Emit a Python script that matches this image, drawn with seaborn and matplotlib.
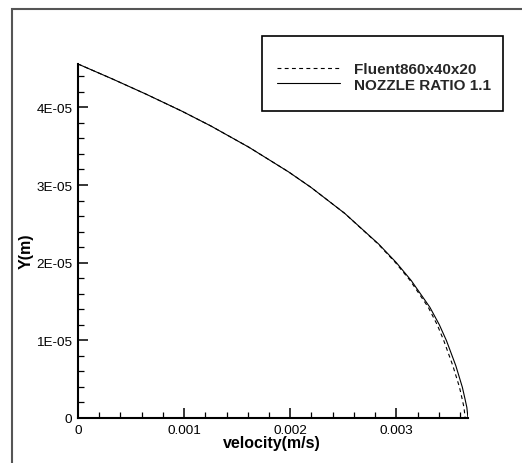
import pandas as pd
import matplotlib
matplotlib.use("Agg")
import matplotlib.pyplot as plt
from matplotlib.patches import Rectangle
from matplotlib.lines import Line2D
from matplotlib.ticker import MultipleLocator
import seaborn as sns

# Velocity profile across the nozzle half-height
y_pos = [4.558e-05, 4.365e-05, 4.17e-05, 3.95e-05, 3.76e-05, 3.485e-05, 3.17e-05,
         2.97e-05, 2.635e-05, 2.24e-05, 2.0e-05, 1.77e-05, 1.425e-05, 1.2e-05,
         0.996e-05, 0.674e-05, 0.395e-05, 0.25e-05, 0.137e-05, 0.0]
u_nozzle = [0.0, 0.000325, 0.000641, 0.00098, 0.001252, 0.001612, 0.001983,
            0.002195, 0.002513, 0.002833, 0.003, 0.00314, 0.003316, 0.003405,
            0.003472, 0.00356, 0.003622, 0.003646, 0.003664, 0.003675]
u_fluent = [0.0, 0.000325, 0.000641, 0.00098, 0.001252, 0.001612, 0.001983,
            0.002195, 0.002513, 0.002828, 0.002992, 0.00313, 0.003301, 0.003385,
            0.003447, 0.003532, 0.003595, 0.003619, 0.003637, 0.003648]

series_names = ["Fluent860x40x20", "NOZZLE RATIO 1.1"]
x_ticks = [0, 0.001, 0.002, 0.003]
x_tick_labels = ["0", "0.001", "0.002", "0.003"]
y_ticks = [0, 1e-05, 2e-05, 3e-05, 4e-05]
y_tick_labels = ["0", "1E-05", "2E-05", "3E-05", "4E-05"]

df = pd.concat([
    pd.DataFrame({"u": u_fluent, "y": y_pos, "case": series_names[0]}),
    pd.DataFrame({"u": u_nozzle, "y": y_pos, "case": series_names[1]}),
])

sns.set_theme(style="white")
plt.rcParams["font.family"] = ["Liberation Sans", "DejaVu Sans"]

W, H = 522, 464
fig = plt.figure(figsize=(W / 100, H / 100), dpi=100)
ax = fig.add_axes([78 / W, (H - 419) / H, 390 / W, 354 / H])

sns.lineplot(data=df, x="u", y="y", hue="case", style="case",
             palette={series_names[0]: "black", series_names[1]: "black"},
             dashes={series_names[0]: (3.5, 3), series_names[1]: ""},
             sort=False, estimator=None, linewidth=0.8, ax=ax, legend=False)

ax.set_xlim(0, 0.003675)
ax.set_ylim(0, 4.558e-05)

for side in ["top", "right"]:
    ax.spines[side].set_visible(False)
for side in ["left", "bottom"]:
    ax.spines[side].set_color("black")
    ax.spines[side].set_linewidth(1.5)

ax.set_xticks(x_ticks)
ax.set_xticklabels(x_tick_labels)
ax.xaxis.set_minor_locator(MultipleLocator(0.0002))
ax.set_yticks(y_ticks)
ax.set_yticklabels(y_tick_labels)
ax.yaxis.set_minor_locator(MultipleLocator(2e-06))

ax.tick_params(which="major", direction="in", length=7.2, width=1.1, color="black",
               labelsize=9.7, labelcolor="black", pad=4, bottom=True, left=True)
ax.tick_params(which="minor", direction="in", length=4.6, width=0.9, color="black",
               bottom=True, left=True)

ax.set_xlabel("velocity(m/s)", fontsize=11.5, fontweight="bold", color="black")
ax.set_ylabel("Y(m)", fontsize=11.5, fontweight="bold", color="black")
ax.xaxis.set_label_coords(0.497, -0.068)
ax.xaxis.label.set_va("center")
ax.yaxis.set_label_coords(-0.133, 0.475)
ax.yaxis.label.set_va("center")

# Legend: frameless entries inside a plain rectangular box
handles = [Line2D([], [], color="black", lw=0.8, dashes=(3.5, 3)),
           Line2D([], [], color="black", lw=0.8)]
fig.legend(handles, series_names, loc="center",
           bbox_to_anchor=(384 / W, 1 - 78 / H), frameon=False,
           prop={"weight": "bold", "size": 11},
           handlelength=4.1, handletextpad=0.9, labelspacing=0.1)
fig.patches.append(Rectangle((262 / W, 1 - 112 / H), 241 / W, 75 / H,
                             transform=fig.transFigure, fill=False,
                             edgecolor="black", linewidth=1.2))

# Outer page frame
fig.patches.append(Rectangle((12 / W, -0.2), 1.2, 1.2 - 10 / H,
                             transform=fig.transFigure, fill=False,
                             edgecolor="#555555", linewidth=1.5))

fig.savefig("out.png", dpi=100)
